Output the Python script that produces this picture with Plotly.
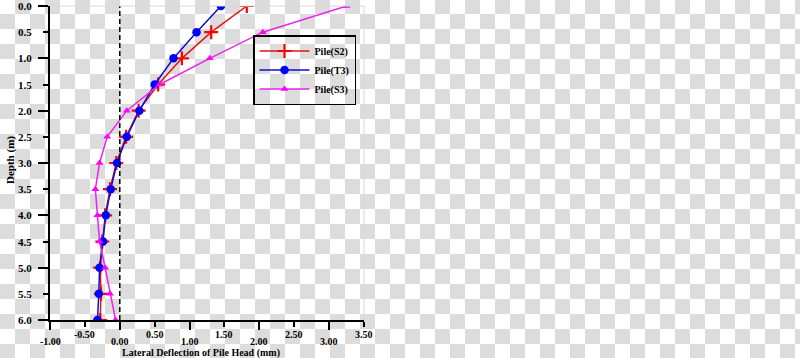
import base64
import plotly.graph_objects as go

# ---------------- data ----------------
depth = [0.0, 0.5, 1.0, 1.5, 2.0, 2.5, 3.0, 3.5, 4.0, 4.5, 5.0, 5.5, 6.0]
pile_s2 = [1.82, 1.31, 0.89, 0.55, 0.27, 0.09, -0.05, -0.14, -0.21, -0.25, -0.28, -0.27, -0.28]
pile_t3 = [1.45, 1.10, 0.77, 0.50, 0.28, 0.10, -0.04, -0.13, -0.20, -0.24, -0.29, -0.30, -0.32]
pile_s3 = [3.25, 2.05, 1.29, 0.57, 0.10, -0.18, -0.29, -0.35, -0.32, -0.29, -0.21, -0.14, -0.06]

x_tick_vals = [-1.0, -0.5, 0.0, 0.5, 1.0, 1.5, 2.0, 2.5, 3.0, 3.5]
x_tick_text = ["-1.00", "-0.50", "0.00", "0.50", "1.00", "1.50", "2.00", "2.50", "3.00", "3.50"]
y_tick_vals = [0.0, 0.5, 1.0, 1.5, 2.0, 2.5, 3.0, 3.5, 4.0, 4.5, 5.0, 5.5, 6.0]
y_tick_text = ["0.0", "0.5", "1.0", "1.5", "2.0", "2.5", "3.0", "3.5", "4.0", "4.5", "5.0", "5.5", "6.0"]

# ---------------- layout geometry ----------------
W, H = 800, 358
ML, MR, MT, MB = 50, 436, 6, 38
PW, PH = W - ML - MR, H - MT - MB

FONT = "Liberation Serif, Times New Roman, serif"

fig = go.Figure()
fig.add_trace(go.Scatter(
    x=pile_s2, y=depth, name="Pile(S2)", mode="lines+markers",
    line=dict(color="#e01515", width=1.5),
    marker=dict(symbol="cross-thin", size=10, line=dict(color="#ff0000", width=2.2)),
))
fig.add_trace(go.Scatter(
    x=pile_t3, y=depth, name="Pile(T3)", mode="lines+markers",
    line=dict(color="#1010d0", width=1.5),
    marker=dict(symbol="circle", size=8.5, color="#0000ff"),
))
fig.add_trace(go.Scatter(
    x=pile_s3, y=depth, name="Pile(S3)", mode="lines+markers",
    line=dict(color="#ee22ee", width=1.5),
    marker=dict(symbol="triangle-up", size=7, color="#ff00ff"),
))

# dashed zero line
fig.add_vline(x=0, line=dict(color="black", width=1.5, dash="5px,3px"))

# faint frame on top/right
fig.add_shape(type="line", xref="paper", yref="paper", x0=0, x1=1, y0=1, y1=1,
              line=dict(color="#d8d8d8", width=1))
fig.add_shape(type="line", xref="paper", yref="paper", x0=1, x1=1, y0=0, y1=1,
              line=dict(color="#d8d8d8", width=1))

annotations = []
# x tick labels (alternating height)
for i, (v, t) in enumerate(zip(x_tick_vals, x_tick_text)):
    annotations.append(dict(
        x=v, xref="x", y=0, yref="paper", text=t, showarrow=False,
        xanchor="center", yanchor="middle", yshift=-21 if i % 2 == 0 else -14,
        font=dict(family=FONT, size=10, color="black", weight="bold"),
    ))
# y tick labels
for v, t in zip(y_tick_vals, y_tick_text):
    annotations.append(dict(
        x=0, xref="paper", y=v, yref="y", text=t, showarrow=False,
        xanchor="right", yanchor="middle", xshift=-16,
        font=dict(family=FONT, size=11, color="black", weight="bold"),
    ))
# axis titles
annotations.append(dict(
    x=(201 - ML) / PW, xref="paper", y=0, yref="paper",
    text="Lateral Deflection of Pile Head (mm)", showarrow=False,
    xanchor="center", yanchor="middle", yshift=-33,
    font=dict(family=FONT, size=10, color="black", weight="bold"),
))
annotations.append(dict(
    x=(10 - ML) / PW, xref="paper", y=(H - MB - 160) / PH, yref="paper",
    text="Depth (m)", showarrow=False, textangle=-90,
    xanchor="center", yanchor="middle",
    font=dict(family=FONT, size=11, color="black", weight="bold"),
))

# checkerboard background (transparent-PNG look)
svg = (
    f'<svg xmlns="http://www.w3.org/2000/svg" width="{W}" height="{H}">'
    '<defs><pattern id="p" x="0" y="-1" width="30" height="30" patternUnits="userSpaceOnUse">'
    '<rect width="30" height="30" fill="#ffffff"/>'
    '<rect x="15" y="0" width="15" height="15" fill="#dcdcdc"/>'
    '<rect x="0" y="15" width="15" height="15" fill="#dcdcdc"/>'
    '</pattern></defs>'
    f'<rect width="{W}" height="{H}" fill="url(#p)"/></svg>'
)
src = "data:image/svg+xml;base64," + base64.b64encode(svg.encode()).decode()

fig.update_layout(
    width=W, height=H,
    margin=dict(l=ML, r=MR, t=MT, b=MB, autoexpand=False),
    paper_bgcolor="white", plot_bgcolor="rgba(0,0,0,0)",
    showlegend=True,
    legend=dict(
        x=(253 - ML) / PW, y=(H - MB - 70) / PH, xanchor="left", yanchor="middle",
        bgcolor="rgba(0,0,0,0)", bordercolor="black", borderwidth=1.5,
        font=dict(family=FONT, size=10, color="black", weight="bold"),
        itemwidth=50, tracegroupgap=0,
    ),
    images=[dict(source=src, xref="paper", yref="paper",
                 x=-ML / PW, y=(H - MB) / PH, sizex=W / PW, sizey=H / PH,
                 xanchor="left", yanchor="top", sizing="stretch", layer="below")],
    annotations=annotations,
    xaxis=dict(
        range=[-1.0, 3.5], showgrid=False, zeroline=False,
        showline=True, linecolor="black", linewidth=1.5,
        tickmode="linear", tick0=-1, dtick=1, ticks="outside", ticklen=8,
        tickwidth=1.5, tickcolor="black", showticklabels=False,
        minor=dict(tickmode="linear", tick0=-1, dtick=0.5, ticks="outside",
                   ticklen=5, tickwidth=1.5, tickcolor="black", showgrid=False),
    ),
    yaxis=dict(
        range=[6.0, 0.0], showgrid=False, zeroline=False,
        showline=True, linecolor="black", linewidth=1.5,
        tickmode="linear", tick0=0, dtick=1, ticks="outside", ticklen=10,
        tickwidth=1.5, tickcolor="black", showticklabels=False,
        minor=dict(tickmode="linear", tick0=0, dtick=0.5, ticks="outside",
                   ticklen=5, tickwidth=1.5, tickcolor="black", showgrid=False),
    ),
)

fig.write_html(
    "out.html",
    config={"displayModeBar": False},
    post_script="document.body.style.margin='0';document.body.style.overflow='hidden';",
)
